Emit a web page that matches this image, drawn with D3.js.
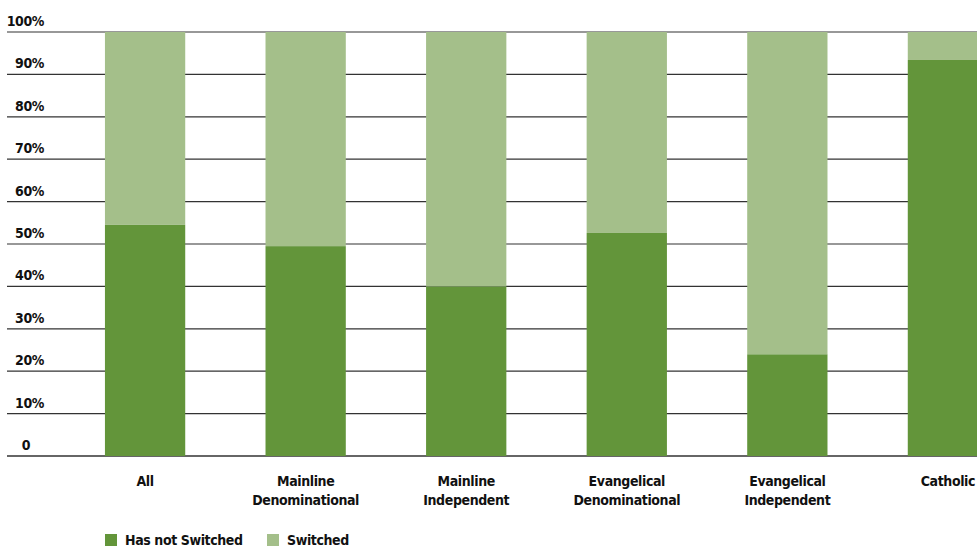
<!DOCTYPE html>
<html>
<head>
<meta charset="utf-8">
<script src="https://cdn.jsdelivr.net/npm/d3@7"></script>
<style>
  body { margin: 0; background: #fff; }
  svg text { font-family: "Liberation Sans Narrow", "DejaVu Sans Condensed", "Liberation Sans", sans-serif; font-weight: bold; fill: #111; letter-spacing: -0.4px; }
</style>
</head>
<body>
<svg id="main-vis"></svg>
<script>
const categories = [
  ["All"],
  ["Mainline", "Denominational"],
  ["Mainline", "Independent"],
  ["Evangelical", "Denominational"],
  ["Evangelical", "Independent"],
  ["Catholic"]
];
const hasNotSwitched = [54.5, 49.5, 40, 52.6, 24, 93.4];
const switched = hasNotSwitched.map(v => 100 - v);
const yTicks = [0, 10, 20, 30, 40, 50, 60, 70, 80, 90, 100];
const seriesNames = ["Has not Switched", "Switched"];
const seriesColors = ["#63953a", "#a4bf8a"];

const width = 977;
const height = 547;

const svg = d3.select("#main-vis")
  .attr("width", width)
  .attr("height", height);

const y = d3.scaleLinear().domain([0, 100]).range([456, 32]);

const x = d3.scaleBand()
  .domain(d3.range(categories.length))
  .range([7, 1086])
  .paddingInner(0.5)
  .paddingOuter(0.61);

// gridlines
svg.append("g")
  .selectAll("line")
  .data(yTicks)
  .enter()
  .append("line")
  .attr("x1", 7)
  .attr("x2", width)
  .attr("y1", d => y(d))
  .attr("y2", d => y(d))
  .attr("stroke", d => d === 0 ? "#666" : "#333")
  .attr("stroke-width", d => d === 0 ? 2 : 1.2);

// tick labels
svg.append("g")
  .selectAll("text")
  .data(yTicks)
  .enter()
  .append("text")
  .attr("x", d => d === 0 ? 30 : 44)
  .attr("y", d => y(d) - 6)
  .attr("text-anchor", "end")
  .attr("font-size", 14)
  .text(d => d === 0 ? "0" : d + "%");

// stacked bars
const stacks = categories.map((c, i) => [
  { i, y0: 0, y1: hasNotSwitched[i], color: seriesColors[0] },
  { i, y0: hasNotSwitched[i], y1: hasNotSwitched[i] + switched[i], color: seriesColors[1] }
]).flat();

svg.append("g")
  .selectAll("rect")
  .data(stacks)
  .enter()
  .append("rect")
  .attr("x", d => x(d.i))
  .attr("width", x.bandwidth())
  .attr("y", d => y(d.y1))
  .attr("height", d => y(d.y0) - y(d.y1))
  .attr("fill", d => d.color);

// category labels
const labels = svg.append("g")
  .selectAll("text")
  .data(categories)
  .enter()
  .append("text")
  .attr("text-anchor", "middle")
  .attr("font-size", 14)
  .attr("transform", (d, i) => `translate(${x(i) + x.bandwidth() / 2}, 486)`);

labels.selectAll("tspan")
  .data(d => d)
  .enter()
  .append("tspan")
  .attr("x", 0)
  .attr("y", (d, j) => j * 19)
  .text(d => d);

// legend
const legendX = [105, 267];
const legend = svg.append("g")
  .selectAll("g")
  .data(seriesNames)
  .enter()
  .append("g")
  .attr("transform", (d, i) => `translate(${legendX[i]}, 534)`);

legend.append("rect")
  .attr("width", 12)
  .attr("height", 12)
  .attr("fill", (d, i) => seriesColors[i]);

legend.append("text")
  .attr("x", 20)
  .attr("y", 11)
  .attr("font-size", 14)
  .text(d => d);
</script>
</body>
</html>
